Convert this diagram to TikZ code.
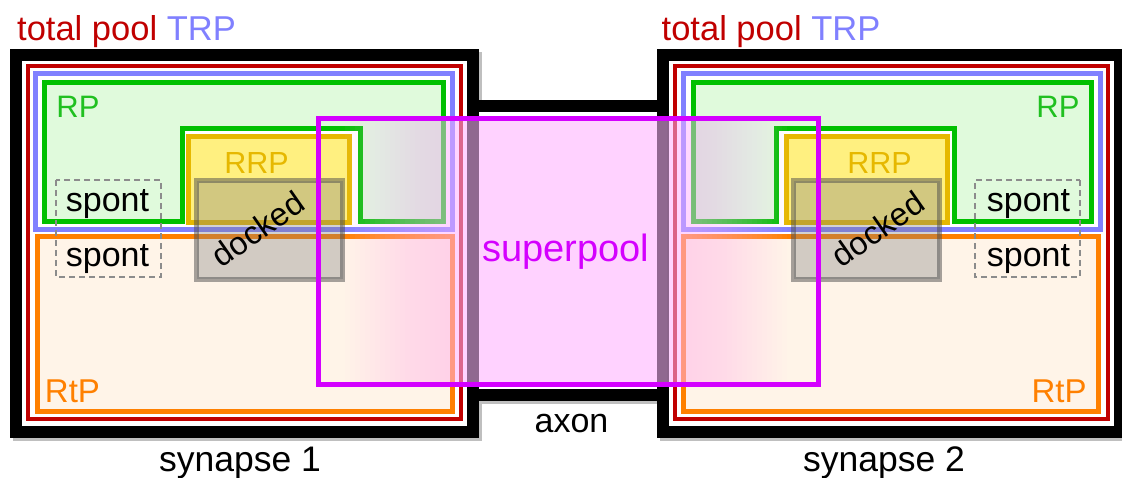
\documentclass[tikz,border=0pt]{standalone}
\usepackage{fontspec}
\setmainfont{Liberation Sans}
\definecolor{cRed}{HTML}{C00000}
\definecolor{cBlue}{HTML}{8080FF}
\definecolor{cGreen}{HTML}{00C000}
\definecolor{cGreenT}{HTML}{20C020}
\definecolor{cGreenFill}{HTML}{E0FADC}
\definecolor{cGold}{HTML}{E6B800}
\definecolor{cYellow}{HTML}{FFF080}
\definecolor{cOrange}{HTML}{FF8000}
\definecolor{cPeach}{HTML}{FFF4E8}
\definecolor{cMag}{HTML}{D400FF}
\definecolor{cPink}{RGB}{255,190,255}
\newcommand{\fsz}[1]{\fontsize{#1}{#1}\selectfont}
\tikzset{
  frame/.style={line width=12pt, draw=black},
  frameshadow/.style={line width=12pt, draw=black!25},
  redline/.style={draw=cRed, line width=4pt},
  blueline/.style={draw=cBlue, line width=5pt},
  rpbox/.style={draw=cGreen, fill=cGreenFill, line width=5pt},
  rrpbox/.style={draw=cGold, fill=cYellow, line width=5pt},
  rtpbox/.style={draw=cOrange, fill=cPeach, line width=5pt},
  dockbox/.style={draw=black!70, draw opacity=0.5, fill=black!50, fill opacity=0.35, line width=5pt},
  spontbox/.style={draw=black!45, dash pattern=on 6pt off 4pt, line width=1.8pt},
  lbl/.style={anchor=base, inner sep=0pt},
  superbox/.style={draw=cMag, line width=5pt},
}
\newcommand{\synapsebody}[1]{%
  \draw[redline] (28,65.5) rectangle (461,419);
  \draw[blueline] (35.5,73) rectangle (452.5,229);
  \draw[rpbox] (44.5,82.5) -- (443,82.5) -- (443,221) -- (360,221) -- (360,128.5)
     -- (182,128.5) -- (182,221) -- (44.5,221) -- cycle;
  \draw[rtpbox] (37.5,236.5) rectangle (452.5,411.5);
  \draw[rrpbox] (188.5,136) rectangle (349.5,222);
  \draw[spontbox] (56,180) rectangle (161,277);
  \draw[dockbox] (196.5,180.5) rectangle (342.5,279);
  \node[lbl, text=cGreenT, font=\fsz{31}] (rp#1) at (78,117) {RP};
  \node[lbl, text=cGold, font=\fsz{30.5}] (rrp#1) at (256.5,173) {RRP};
  \node[lbl, font=\fsz{34}] (spa#1) at (107.5,211) {spont};
  \node[lbl, font=\fsz{34}] (spb#1) at (107.5,266) {spont};
  \node[font=\fsz{32.5}, rotate=35, inner sep=0pt] (dk#1) at (258,229) {docked};
}
\begin{document}
\begin{tikzpicture}[x=1pt, y=-1pt]
  \useasboundingbox (0,0) rectangle (1122,477);
  \clip (0,0) rectangle (1122,477);
  % shadows
  \begin{scope}[shift={(3,3)}]
    \draw[frameshadow] (16,55) rectangle (473,431.5);
    \draw[frameshadow] (663,55) rectangle (1120,431.5);
    \draw[frameshadow] (473,105.5) -- (663,105.5);
    \draw[frameshadow] (473,395) -- (663,395);
  \end{scope}
  \fill[white] (16,55) rectangle (473,431.5);
  \fill[white] (663,55) rectangle (1120,431.5);
  \fill[white] (473,105.5) rectangle (663,395);
  % black frames and axon
  \draw[frame] (16,55) rectangle (473,431.5);
  \draw[frame] (663,55) rectangle (1120,431.5);
  \draw[frame] (473,105.5) -- (663,105.5);
  \draw[frame] (473,395) -- (663,395);
  % synapse contents
  \synapsebody{L}
  \begin{scope}[xshift=1136pt, xscale=-1]
    \synapsebody{R}
  \end{scope}
  \node[lbl, text=cOrange, font=\fsz{33}] (rtpL) at (72.5,402.5) {RtP};
  \node[lbl, text=cOrange, font=\fsz{33}] (rtpR) at (1059,402.5) {RtP};
  % superpool
  \foreach \k in {0,...,24}
    \fill[cPink, opacity=0.036] ({345+\k*5},118.5) rectangle ({787-\k*5},384);
  \draw[superbox] (318.5,118.5) rectangle (818.5,384);
  \node[lbl, text=cMag, font=\fsz{38}] (sp) at (566,261.5) {superpool};
  % labels
  \node[anchor=base west, inner sep=0pt, text=cRed, font=\fsz{34.5}] (tpL) at (17,40) {total pool \textcolor{cBlue}{TRP}};
  \node[anchor=base west, inner sep=0pt, text=cRed, font=\fsz{34.5}] (tpR) at (661.5,40) {total pool \textcolor{cBlue}{TRP}};
  \node[lbl, font=\fsz{34}] (axon) at (571.5,432.5) {axon};
  \node[lbl, font=\fsz{35.5}] (syn1) at (240,471) {synapse 1};
  \node[lbl, font=\fsz{35.5}] (syn2) at (884,471) {synapse 2};
\end{tikzpicture}
\end{document}
